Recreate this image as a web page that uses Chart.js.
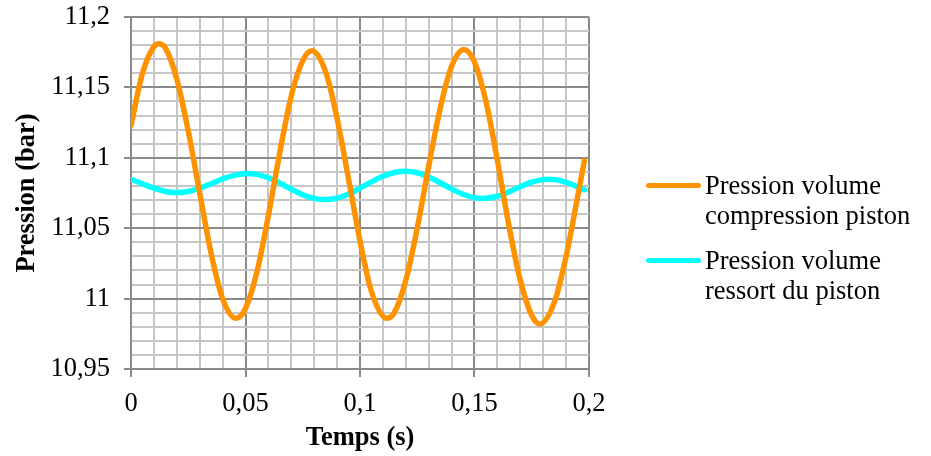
<!DOCTYPE html>
<html>
<head>
<meta charset="utf-8">
<script src="https://cdn.jsdelivr.net/npm/chart.js@4/dist/chart.umd.min.js"></script>
<style>
  html, body { margin: 0; padding: 0; background: #ffffff; }
  #wrap { position: relative; width: 931px; height: 456px; }
  #legend { position: absolute; left: 0; top: 0; font-family: "Liberation Serif", "Times New Roman", serif; font-size: 26.5px; line-height: 30px; color: #000; }
  .item { position: absolute; left: 646px; }
  .swatch { position: absolute; left: 0; top: 13px; width: 55px; height: 5px; border-radius: 3px; }
  .txt { position: absolute; left: 59px; top: 0; white-space: nowrap; }
</style>
</head>
<body>
<div id="wrap">
  <canvas id="c" width="931" height="456"></canvas>
  <div id="legend"></div>
</div>
<script>
// ---- data ----
const timeCompression = [0, 0.005, 0.01, 0.0122, 0.015, 0.02, 0.025, 0.03, 0.035, 0.04, 0.0459, 0.05, 0.055, 0.06, 0.065, 0.07, 0.075, 0.079, 0.085, 0.09, 0.095, 0.1, 0.105, 0.1118, 0.115, 0.12, 0.125, 0.13, 0.135, 0.14, 0.1454, 0.15, 0.155, 0.16, 0.165, 0.17, 0.175, 0.1786, 0.185, 0.19, 0.195, 0.198];
const pressionCompression = [11.123, 11.160, 11.179, 11.181, 11.178, 11.156, 11.119, 11.075, 11.032, 11.000, 10.986, 10.993, 11.019, 11.059, 11.104, 11.144, 11.169, 11.176, 11.161, 11.128, 11.085, 11.041, 11.005, 10.986, 10.990, 11.013, 11.050, 11.094, 11.135, 11.165, 11.177, 11.168, 11.140, 11.098, 11.052, 11.013, 10.988, 10.982, 10.998, 11.030, 11.072, 11.098];

const timeRessort = [0, 0.005, 0.01, 0.015, 0.0201, 0.025, 0.03, 0.035, 0.04, 0.045, 0.0511, 0.055, 0.06, 0.065, 0.07, 0.075, 0.08, 0.0847, 0.09, 0.095, 0.1, 0.105, 0.11, 0.115, 0.1197, 0.125, 0.13, 0.135, 0.14, 0.145, 0.15, 0.1537, 0.16, 0.165, 0.17, 0.175, 0.1821, 0.185, 0.19, 0.195, 0.198];
const pressionRessort = [11.0848, 11.0815, 11.0784, 11.0761, 11.0753, 11.0761, 11.0784, 11.0816, 11.0850, 11.0875, 11.0888, 11.0882, 11.0858, 11.0820, 11.0777, 11.0738, 11.0712, 11.0703, 11.0714, 11.0743, 11.0784, 11.0829, 11.0869, 11.0896, 11.0905, 11.0894, 11.0864, 11.0823, 11.0779, 11.0741, 11.0717, 11.0711, 11.0727, 11.0758, 11.0795, 11.0828, 11.0848, 11.0845, 11.0826, 11.0794, 11.0773];

const seriesLabels = [["Pression volume", "compression piston"], ["Pression volume", "ressort du piston"]];
const xTickLabels = ["0", "0,05", "0,1", "0,15", "0,2"];
const yTickLabels = ["10,95", "11", "11,05", "11,1", "11,15", "11,2"];
const xTitle = "Temps (s)";
const yTitle = "Pression (bar)";

// ---- styles ----
const FONT = "'Liberation Serif', 'Times New Roman', serif";
const MAJOR = "#8a8a8a";
const MINOR = "#c6c6c6";
const isMajor = (i) => i % 5 === 0;

function pts(xs, ys) { return xs.map((x, i) => ({ x: x, y: ys[i] })); }

const chart = new Chart(document.getElementById('c'), {
  type: 'line',
  data: {
    datasets: [
      { label: seriesLabels[0].join(' '), data: pts(timeCompression, pressionCompression), borderColor: '#FF9200', backgroundColor: '#FF9200', borderWidth: 5.5, pointRadius: 0, cubicInterpolationMode: 'monotone', borderCapStyle: 'round', borderJoinStyle: 'round' },
      { label: seriesLabels[1].join(' '), data: pts(timeRessort, pressionRessort), borderColor: '#00FFFF', backgroundColor: '#00FFFF', borderWidth: 5.5, pointRadius: 0, cubicInterpolationMode: 'monotone', borderCapStyle: 'round', borderJoinStyle: 'round' }
    ]
  },
  options: {
    responsive: false,
    animation: false,
    devicePixelRatio: 1,
    layout: { padding: { left: 0, top: 17, right: 342, bottom: 0 } },
    plugins: { legend: { display: false }, tooltip: { enabled: false } },
    scales: {
      x: {
        type: 'linear', min: 0, max: 0.2,
        afterFit: (s) => { s.height = 87; },
        ticks: {
          stepSize: 0.01, autoSkip: false, maxRotation: 0, minRotation: 0, padding: 11,
          color: '#000', font: { family: FONT, size: 26.5 },
          callback: (v, i) => isMajor(i) ? xTickLabels[i / 5] : ''
        },
        grid: {
          color: (ctx) => isMajor(ctx.index) ? MAJOR : MINOR,
          lineWidth: 2,
          tickColor: (ctx) => isMajor(ctx.index) ? MAJOR : 'rgba(0,0,0,0)',
          tickLength: 8, drawTicks: true
        },
        border: { color: MAJOR, width: 2 },
        title: { display: true, text: xTitle, color: '#000', font: { family: FONT, size: 26.5, weight: 'bold' }, padding: { top: 0, bottom: 2 } }
      },
      y: {
        type: 'linear', min: 10.95, max: 11.2,
        afterFit: (s) => { s.width = 131; s.paddingTop = 0; s.paddingBottom = 0; },
        ticks: {
          stepSize: 0.01, autoSkip: false, padding: 14,
          color: '#000', font: { family: FONT, size: 26.5 },
          callback: (v, i) => isMajor(i) ? yTickLabels[i / 5] : ''
        },
        grid: {
          color: (ctx) => isMajor(ctx.index) ? MAJOR : MINOR,
          lineWidth: 2,
          tickColor: (ctx) => isMajor(ctx.index) ? MAJOR : 'rgba(0,0,0,0)',
          tickLength: 7, drawTicks: true
        },
        border: { color: MAJOR, width: 2 },
        title: { display: true, text: yTitle, color: '#000', font: { family: FONT, size: 26.5, weight: 'bold' }, padding: { top: 11, bottom: 0 } }
      }
    }
  }
});

// ---- HTML legend built from the datasets ----
const legendEl = document.getElementById('legend');
const legendTops = [170, 245];
chart.data.datasets.forEach((ds, i) => {
  const item = document.createElement('div');
  item.className = 'item';
  item.style.top = legendTops[i] + 'px';
  const sw = document.createElement('span');
  sw.className = 'swatch';
  sw.style.background = ds.borderColor;
  const tx = document.createElement('div');
  tx.className = 'txt';
  seriesLabels[i].forEach((line, k) => {
    if (k) tx.appendChild(document.createElement('br'));
    tx.appendChild(document.createTextNode(line));
  });
  item.appendChild(sw);
  item.appendChild(tx);
  legendEl.appendChild(item);
});
</script>
</body>
</html>
